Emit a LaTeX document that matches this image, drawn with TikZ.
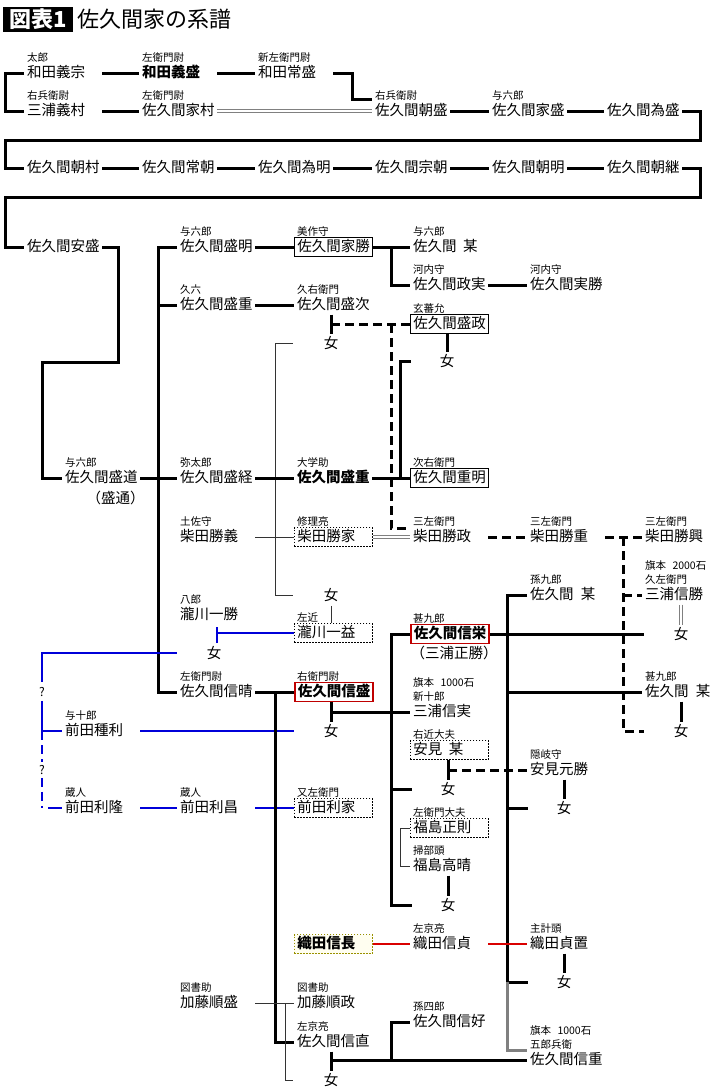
\documentclass[tikz,border=0pt]{standalone}
\usepackage{fontspec}
\setmainfont{Noto Sans CJK JP}
\newcommand\mylab[2]{\node[lb] (#1-l) at ([xshift=3pt,yshift=15.5pt]#1.west) {#2};}
\newcommand\mylabb[2]{\node[lb] (#1-m) at ([xshift=3pt,yshift=29.5pt]#1.west) {#2};}
\begin{document}
\begin{tikzpicture}[x=1pt,y=-1pt,
 nm/.style={anchor=west, inner xsep=3pt, inner ysep=2pt, text width=72pt, align=left, text height=12pt, text depth=3pt, font=\fontsize{14.5}{16}\selectfont},
 bnm/.style={nm, font=\fontsize{14.5}{16}\selectfont\bfseries},
 bx/.style={draw=black, line width=0.8pt},
 dbx/.style={draw=black, line width=0.8pt, dash pattern=on 1.5pt off 1.5pt},
 rbx/.style={draw=red!75!black, line width=1.8pt, fill=white},
 ybx/.style={draw=olive!90!yellow, line width=0.9pt, dash pattern=on 1.5pt off 1.5pt, fill=yellow!6},
 lb/.style={anchor=west, inner sep=0pt, font=\fontsize{10.5}{12}\selectfont},
 wm/.style={inner sep=0pt, font=\fontsize{14.5}{16}\selectfont},
 qm/.style={inner sep=0pt, font=\fontsize{12}{13}\selectfont},
 thk/.style={line width=3pt},
 thn/.style={line width=1pt, draw=black!80},
 dsh/.style={line width=3pt, dash pattern=on 9pt off 5pt},
 blu/.style={line width=1.6pt, draw=blue!85!black},
 bdash/.style={dash pattern=on 9pt off 5pt},
 rdl/.style={line width=1.5pt, draw=red!85!black},
 gry/.style={line width=3pt, draw=gray},
 dbl/.style={draw=gray, line width=0.9pt, double=white, double distance=1.4pt},
]
\fill[white] (0,0) rectangle (720,1088);
\useasboundingbox (0,0) rectangle (720,1088);

% title
\node[fill=black, text=white, minimum width=70pt, minimum height=25pt, inner sep=0pt, font=\fontsize{22}{24}\selectfont\bfseries] (tz) at (38,19.5) {図表1};
\node[anchor=west, inner sep=0pt, font=\fontsize{22}{24}\selectfont] (tt) at (77,19.5) {佐久間家の系譜};

% rows 1-2
\node[nm] (wy) at (24,73) {和田義宗}; \mylab{wy}{太郎}
\node[bnm] (wmo) at (139,73) {和田義盛}; \mylab{wmo}{左衛門尉}
\node[nm] (wt) at (255,73) {和田常盛}; \mylab{wt}{新左衛門尉}
\node[nm] (my) at (24,111) {三浦義村}; \mylab{my}{右兵衛尉}
\node[nm] (ik) at (139,111) {佐久間家村}; \mylab{ik}{左衛門尉}
\node[nm] (am) at (372,111) {佐久間朝盛}; \mylab{am}{右兵衛尉}
\node[nm] (ie) at (489,111) {佐久間家盛}; \mylab{ie}{与六郎}
\node[nm] (tm) at (604,111) {佐久間為盛};
% row 3
\node[nm] (r1) at (24,168) {佐久間朝村};
\node[nm] (r2) at (139,168) {佐久間常朝};
\node[nm] (r3) at (255,168) {佐久間為明};
\node[nm] (r4) at (372,168) {佐久間宗朝};
\node[nm] (r5) at (489,168) {佐久間朝明};
\node[nm] (r6) at (604,168) {佐久間朝継};
\node[nm] (ys) at (24,247) {佐久間安盛};

% col 1b
\node[nm] (md) at (62,478) {佐久間盛道}; \mylab{md}{与六郎}
\node[wm, anchor=west] (mdt) at (86.5,498) {（盛通）};
\node[nm] (mtt) at (62,731) {前田種利}; \mylab{mtt}{与十郎}
\node[nm] (mtr) at (62,808) {前田利隆}; \mylab{mtr}{蔵人}
\node[qm] (q1) at (42,692) {?};
\node[qm] (q2) at (42,770) {?};

% col 2
\node[nm] (mak) at (177,247) {佐久間盛明}; \mylab{mak}{与六郎}
\node[nm] (mj2) at (177,305) {佐久間盛重}; \mylab{mj2}{久六}
\node[nm] (mk) at (177,478) {佐久間盛経}; \mylab{mk}{弥太郎}
\node[nm] (kg) at (177,537) {柴田勝義}; \mylab{kg}{土佐守}
\node[nm] (tk) at (177,615) {瀧川一勝}; \mylab{tk}{八郎}
\node[wm] (w4) at (214,653) {女};
\node[nm] (nh) at (177,692) {佐久間信晴}; \mylab{nh}{左衛門尉}
\node[nm] (mrs) at (177,808) {前田利昌}; \mylab{mrs}{蔵人}
\node[nm] (kj) at (177,1003) {加藤順盛}; \mylab{kj}{図書助}

% col 3
\node[nm, bx] (kk) at (294,247) {佐久間家勝}; \mylab{kk}{美作守}
\node[nm] (ms) at (294,305) {佐久間盛次}; \mylab{ms}{久右衛門}
\node[wm] (w1) at (331,343) {女};
\node[bnm] (mj3) at (294,478) {佐久間盛重}; \mylab{mj3}{大学助}
\node[nm, dbx] (ki) at (294,537) {柴田勝家}; \mylab{ki}{修理亮}
\node[wm] (w3) at (331,595) {女};
\node[nm, dbx] (ke) at (294,633) {瀧川一益}; \mylab{ke}{左近}
\node[bnm, rbx] (nmr) at (294,692) {佐久間信盛}; \mylab{nmr}{右衛門尉}
\node[wm] (w7) at (331,731) {女};
\node[nm, dbx] (mri) at (294,808) {前田利家}; \mylab{mri}{又左衛門}
\node[bnm, ybx] (nb) at (294,944) {織田信長};
\node[nm] (kjm) at (294,1003) {加藤順政}; \mylab{kjm}{図書助}
\node[nm] (nn) at (294,1042) {佐久間信直}; \mylab{nn}{左京亮}
\node[wm] (w12) at (331,1080) {女};

% col 4
\node[nm] (sb1) at (410,247) {佐久間\hspace{0.45em}某}; \mylab{sb1}{与六郎}
\node[nm] (msz) at (410,285) {佐久間政実}; \mylab{msz}{河内守}
\node[nm, bx] (mz) at (410,324) {佐久間盛政}; \mylab{mz}{玄蕃允}
\node[wm] (w2) at (447,361) {女};
\node[nm, bx] (jm) at (410,478) {佐久間重明}; \mylab{jm}{次右衛門}
\node[nm] (kms) at (410,537) {柴田勝政}; \mylab{kms}{三左衛門}
\node[bnm, rbx] (nse) at (410,634) {佐久間信栄}; \mylab{nse}{甚九郎}
\node[wm, anchor=west] (mmk) at (410.5,653) {（三浦正勝）};
\node[nm] (msj) at (410,712) {三浦信実}; \mylab{msj}{新十郎} \mylabb{msj}{旗本\hspace{0.6em}1000石}
\node[nm, dbx] (ymb) at (410,750) {安見\hspace{0.45em}某}; \mylab{ymb}{右近大夫}
\node[wm] (w8) at (448,789) {女};
\node[nm, dbx] (fm) at (410,828) {福島正則}; \mylab{fm}{左衛門大夫}
\node[nm] (fh) at (410,866) {福島高晴}; \mylab{fh}{掃部頭}
\node[wm] (w10) at (448,905) {女};
\node[nm] (nsd) at (410,944) {織田信貞}; \mylab{nsd}{左京亮}
\node[nm] (snk) at (410,1022) {佐久間信好}; \mylab{snk}{孫四郎}

% col 5
\node[nm] (sjk) at (527,285) {佐久間実勝}; \mylab{sjk}{河内守}
\node[nm] (ksg) at (527,537) {柴田勝重}; \mylab{ksg}{三左衛門}
\node[nm] (sb2) at (527,595) {佐久間\hspace{0.5em}某}; \mylab{sb2}{孫九郎}
\node[nm] (ymk) at (527,770) {安見元勝}; \mylab{ymk}{隠岐守}
\node[wm] (w9) at (564,808) {女};
\node[nm] (osk) at (527,944) {織田貞置}; \mylab{osk}{主計頭}
\node[wm] (w11) at (564,982) {女};
\node[nm] (snj) at (527,1060) {佐久間信重}; \mylab{snj}{五郎兵衛} \mylabb{snj}{旗本\hspace{0.6em}1000石}

% col 6
\node[nm] (kko) at (642,537) {柴田勝興}; \mylab{kko}{三左衛門}
\node[nm] (mnk) at (642,595) {三浦信勝}; \mylab{mnk}{久左衛門} \mylabb{mnk}{旗本\hspace{0.6em}2000石}
\node[wm] (w5) at (681,634) {女};
\node[nm] (sb3) at (642,692) {佐久間\hspace{0.5em}某}; \mylab{sb3}{甚九郎}
\node[wm] (w6) at (681,731) {女};

% vertical guide coordinates
\coordinate (xA) at (391,0);
\coordinate (xB) at (507,0);
\coordinate (xC) at (285,0);
\coordinate (xD) at (623,0);
\coordinate (xE) at (275,0);
\coordinate (xF) at (400,0);
\coordinate (bt) at ([xshift=3pt,yshift=3pt]w4.north);

% ---- top lines
\draw[thk] (wy.west) -- ++(-19,0) |- (my.west);
\draw[thk] (wy.east) -- (wmo.west);
\draw[thk] (wmo.east) -- (wt.west);
\draw[thk] (my.east) -- (ik.west);
\draw[thk] (wt.east) -- ++(19,0) |- ([yshift=12pt]am.west);
\draw[dbl] (ik.east) -- (am.west);
\draw[thk] (am.east) -- (ie.west);
\draw[thk] (ie.east) -- (tm.west);
\draw[thk] (tm.east) -| (700,140) -| (5,168) -- (r1.west);
\draw[thk] (r1.east) -- (r2.west);
\draw[thk] (r2.east) -- (r3.west);
\draw[thk] (r3.east) -- (r4.west);
\draw[thk] (r4.east) -- (r5.west);
\draw[thk] (r5.east) -- (r6.west);
\draw[thk] (r6.east) -| (700,197) -| (5,247) -- (ys.west);
\draw[thk] (ys.east) -| (118,362) -| (42,478) -- (md.west);

% ---- col 2 trunk
\draw[thk] (mak.west) -- ++(-19,0) |- (nh.west);
\draw[thk] (mj2.west) -- ++(-19,0);
\draw[thk] (md.east) -- (mk.west);

% ---- upper middle
\draw[thn] ([xshift=-31pt]w1.west) -| (xE |- w3.west) -- ([xshift=-31pt]w3.west);
\draw[thk] (mak.east) -- (kk.west);
\draw[thk] (kk.east) -- (sb1.west);
\draw[thk] (kk.east) ++(19,0) |- (msz.west);
\draw[thk] (msz.east) -- (sjk.west);
\draw[thk] (mj2.east) -- (ms.west);
\draw[thk] (w1.north |- ms.south) -- ([yshift=2pt]w1.north);
\draw[dsh] (w1.north |- mz.west) -- (mz.west);
\draw[thk] (w2.north |- mz.south) -- ([yshift=2pt]w2.north);
\draw[dsh] (xA |- mz.west) |- ([yshift=9pt]kms.west);
\draw[thk] ([xshift=-29pt]w2.west) -| (xF |- jm.west);
\draw[thk] (mk.east) -- (mj3.west);
\draw[thk] (mj3.east) -- (jm.west);

% ---- shibata
\draw[thn] (kg.east) -- (ki.west);
\draw[dbl] (ki.east) -- (kms.west);
\draw[dsh] (kms.east) -- (ksg.west);
\draw[dsh] (ksg.east) -- (kko.west);
\draw[dsh] (xD |- ksg.east) |- ([xshift=-30pt]w6.west);
\draw[dsh] (xD |- mnk.west) -- (mnk.west);
\draw[dbl] (w5.north |- mnk.south) -- ([yshift=2pt]w5.north);
\draw[thn] ([yshift=-4pt]w3.south) -- (w3.south |- ke.north);

% ---- blue
\draw[blu] (bt) -- ++(0,-16);
\draw[blu] (ke.west) -- (ke.west -| bt);
\draw[blu] ([xshift=-30pt]w4.west) -| (42,682);
\draw[blu] ([yshift=-4pt]q1.south) |- (mtt.west);
\draw[blu, bdash] (mtt.west -| q1.south) -- ([yshift=3pt]q2.north);
\draw[blu, bdash] ([yshift=-3pt]q2.south) -- (q2.south |- mtr.west);
\draw[blu] ([xshift=-14pt]mtr.west) -- (mtr.west);
\draw[blu] (mtt.east) -- ([xshift=-30pt]w7.west);
\draw[blu] (mtr.east) -- (mrs.west);
\draw[blu] (mrs.east) -- (mri.west);

% ---- nobumori
\draw[thk] (nh.east) -- (nmr.west);
\draw[thk] (xE |- nmr.west) |- (nn.west);
\draw[thk] (nmr.south -| w7.north) -- ([yshift=2pt]w7.north);
\draw[thk] (w7.north |- msj.west) -- (msj.west);
\draw[thk] (nse.west) -| (xA |- w10.west) -- ([xshift=-29pt]w10.west);
\draw[thk] (xA |- w8.west) -- ([xshift=-29pt]w8.west);
\draw[thk] (w8.north |- ymb.south) -- ([yshift=2pt]w8.north);
\draw[dsh] (w8.north |- ymk.west) -- (ymk.west);
\draw[thk] (w9.north |- ymk.south) -- ([yshift=2pt]w9.north);
\draw[thn] (fm.west) -- ++(-10,0) |- (fh.west);
\draw[thk] (w10.north |- fh.south) -- ([yshift=2pt]w10.north);

% ---- nobuhide children
\draw[thk] (sb2.west) -| (xB |- w11.west) -- ([xshift=-29pt]w11.west);
\draw[thk] (nse.east) -- ([xshift=-30pt]w5.west);
\draw[thk] (xB |- sb3.west) -- (sb3.west);
\draw[thk] (xB |- w9.west) -- ([xshift=-29pt]w9.west);
\draw[gry] (xB |- w11.west) |- ([yshift=10pt]snj.west);
\draw[thk] (w6.north |- sb3.south) -- ([yshift=2pt]w6.north);
\draw[thk] (w11.north |- osk.south) -- ([yshift=2pt]w11.north);
\draw[rdl] (nb.east) -- (nsd.west);
\draw[rdl] (nsd.east) -- (osk.west);

% ---- bottom
\draw[thn] (kj.east) -- (kjm.west);
\draw[thn] (xC |- kjm.west) |- ([xshift=-31pt]w12.west);
\draw[thk] (w12.north |- nn.south) -- ([yshift=2pt]w12.north);
\draw[thk] (w12.north |- snj.west) -- (snj.west);
\draw[thk] (xA |- snj.west) |- (snk.west);
\end{tikzpicture}
\end{document}
